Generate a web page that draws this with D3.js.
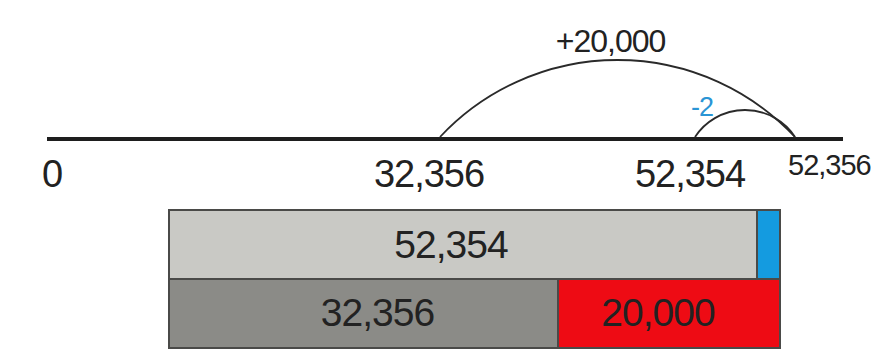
<!DOCTYPE html>
<html>
<head>
<meta charset="utf-8">
<script src="https://cdn.jsdelivr.net/npm/d3@7"></script>
<style>
  html, body { margin: 0; padding: 0; background: #ffffff; }
  svg { display: block; }
  text { font-family: "Liberation Sans", Arial, sans-serif; }
</style>
</head>
<body>
<svg id="chart" width="875" height="361"></svg>
<script>
// ---- data ----
const tickValues = [0, 32356, 52354, 52356];
const tickLabels = ["0", "32,356", "52,354", "52,356"];

const jumpFrom = [32356, 52356];
const jumpTo = [52356, 52354];
const jumpLabels = ["+20,000", "-2"];

const barRows = ["whole", "parts"];
const wholeValues = [52354, 2];
const wholeLabels = ["52,354", ""];
const partValues = [32356, 20000];
const partLabels = ["32,356", "20,000"];

// ---- layout ----
const svg = d3.select("#chart");
const axisY = 139;

// schematic (not-to-scale) number line: piecewise linear scale
const x = d3.scaleLinear()
  .domain(tickValues)
  .range([47, 440, 695, 795]);

// schematic bar model scale
const xb = d3.scaleLinear()
  .domain([0, 32356, 52354, 52356])
  .range([169, 558, 757, 780]);

const y = d3.scaleBand().domain(barRows).range([210, 348]).padding(0);

// ---- number line ----
svg.append("line")
  .attr("x1", 47).attr("x2", 843)
  .attr("y1", axisY).attr("y2", axisY)
  .attr("stroke", "#1e1e1e").attr("stroke-width", 4);

const tickFont = [38, 38, 38, 29];
const tickDx = [5, -11, -5, -7];
const tickDy = [187, 187, 187, 175];
const tickAnchor = ["middle", "middle", "middle", "start"];
svg.selectAll("text.tick")
  .data(tickValues)
  .join("text")
  .attr("class", "tick")
  .attr("x", (d, i) => x(d) + tickDx[i])
  .attr("y", (d, i) => tickDy[i])
  .attr("text-anchor", (d, i) => tickAnchor[i])
  .attr("font-size", (d, i) => tickFont[i])
  .attr("letter-spacing", -1)
  .attr("fill", "#222")
  .text((d, i) => tickLabels[i]);

// ---- jumps (arcs) ----
const arcHeights = [77, 27];
const arcColors = ["#2a2a2a", "#2a2a2a"];
jumpFrom.forEach((f, i) => {
  const x1 = Math.min(x(f), x(jumpTo[i]));
  const x2 = Math.max(x(f), x(jumpTo[i]));
  const hw = (x2 - x1) / 2;
  const h = arcHeights[i];
  const R = (hw * hw + h * h) / (2 * h);
  svg.append("path")
    .attr("d", `M${x1},${axisY - 2} A${R},${R} 0 0 1 ${x2},${axisY - 2}`)
    .attr("fill", "none")
    .attr("stroke", arcColors[i])
    .attr("stroke-width", 1.8);
});

// jump labels
const jumpLabelPos = [
  { dx: 0.5, off: -7, y: 52, size: 32, color: "#222" },
  { dx: 0.07, off: 0, y: 116, size: 27, color: "#2a95d5" }
];
jumpLabels.forEach((t, i) => {
  const x1 = Math.min(x(jumpFrom[i]), x(jumpTo[i]));
  const x2 = Math.max(x(jumpFrom[i]), x(jumpTo[i]));
  const p = jumpLabelPos[i];
  svg.append("text")
    .attr("x", x1 + (x2 - x1) * p.dx + p.off)
    .attr("y", p.y)
    .attr("text-anchor", "middle")
    .attr("font-size", p.size)
    .attr("letter-spacing", -1)
    .attr("fill", p.color)
    .text(t);
});

// ---- bar model ----
const stack = (vals) => {
  let acc = 0;
  return vals.map(v => { const s = acc; acc += v; return [s, acc]; });
};
const wholeSegs = stack(wholeValues);
const partSegs = stack(partValues);
const wholeColors = ["#c9c9c5", "#149be0"];
const partColors = ["#8b8b87", "#ee0b14"];

function drawRow(row, segs, colors, labels, labelDx, labelY) {
  const g = svg.append("g");
  g.selectAll("rect")
    .data(segs)
    .join("rect")
    .attr("x", d => xb(d[0]))
    .attr("width", d => xb(d[1]) - xb(d[0]))
    .attr("y", y(row))
    .attr("height", y.bandwidth())
    .attr("fill", (d, i) => colors[i])
    .attr("stroke", "#4a4a48")
    .attr("stroke-width", 2);
  g.selectAll("text")
    .data(segs)
    .join("text")
    .attr("x", (d, i) => (xb(d[0]) + xb(d[1])) / 2 + labelDx[i])
    .attr("y", labelY)
    .attr("text-anchor", "middle")
    .attr("font-size", 39)
    .attr("letter-spacing", -1)
    .attr("fill", "#222")
    .text((d, i) => labels[i]);
}

drawRow("whole", wholeSegs, wholeColors, wholeLabels, [-12, 0], 258);
drawRow("parts", partSegs, partColors, partLabels, [14, -11], 326);
</script>
</body>
</html>
